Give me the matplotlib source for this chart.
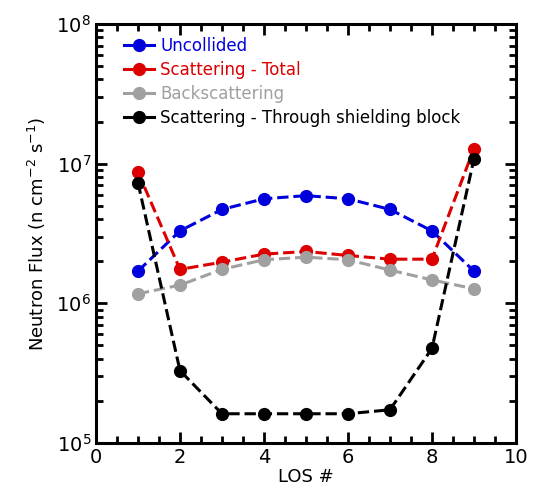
import numpy as np
import matplotlib
matplotlib.use("Agg")
import matplotlib.pyplot as plt
from matplotlib.lines import Line2D
from matplotlib.ticker import LogLocator, MultipleLocator, NullFormatter

los = [1, 2, 3, 4, 5, 6, 7, 8, 9]
uncollided = [1.7e6, 3.3e6, 4.7e6, 5.6e6, 5.9e6, 5.6e6, 4.7e6, 3.3e6, 1.7e6]
scatter_total = [8.7e6, 1.75e6, 1.97e6, 2.25e6, 2.35e6, 2.2e6, 2.07e6, 2.07e6, 1.28e7]
backscatter = [1.17e6, 1.35e6, 1.75e6, 2.05e6, 2.14e6, 2.05e6, 1.73e6, 1.47e6, 1.27e6]
through_block = [7.3e6, 3.3e5, 1.62e5, 1.62e5, 1.62e5, 1.62e5, 1.73e5, 4.75e5, 1.08e7]

labels = ["Uncollided", "Scattering - Total", "Backscattering",
          "Scattering - Through shielding block"]
colors = ["#0000dd", "#dd0000", "#a0a0a0", "#000000"]
series = [uncollided, scatter_total, backscatter, through_block]

plt.rcParams['font.family'] = ['DejaVu Sans']

fig = plt.figure(figsize=(5.38, 4.98), dpi=100)
ax = fig.add_axes([0.1784, 0.1104, 0.7806, 0.8416])

for ys, c in zip(series, colors):
    ax.plot(los, ys, color=c, linestyle='--', linewidth=2.2,
            marker='o', markersize=9.5, markeredgewidth=0)

ax.set_yscale('log')
ax.set_xlim(0, 10)
ax.set_ylim(1e5, 1e8)
ax.xaxis.set_major_locator(MultipleLocator(2))
ax.xaxis.set_minor_locator(MultipleLocator(0.5))
ax.yaxis.set_major_locator(LogLocator(base=10, numticks=10))
ax.yaxis.set_minor_locator(LogLocator(base=10, subs=np.arange(2, 10), numticks=10))
ax.yaxis.set_minor_formatter(NullFormatter())

ax.tick_params(which='both', direction='in', top=True, right=True,
               labelsize=14, width=2)
ax.tick_params(which='major', length=8)
ax.tick_params(which='minor', length=5)
for s in ax.spines.values():
    s.set_linewidth(2.2)

ax.set_xlabel("LOS #", fontsize=13, labelpad=1)
ax.set_ylabel(r"Neutron Flux (n cm$^{-2}$ s$^{-1}$)", fontsize=13, labelpad=6)

handles = [Line2D([], [], color=c, linewidth=2.2, marker='o', markersize=9.5,
                  markeredgewidth=0) for c in colors]
leg = ax.legend(handles, labels, loc='upper left', frameon=False, fontsize=12,
                handlelength=1.8, handletextpad=0.4, labelspacing=0.36,
                borderaxespad=0.0, bbox_to_anchor=(0.05, 0.985))
for t, c in zip(leg.get_texts(), colors):
    t.set_color(c)

fig.savefig("out.png", dpi=100)
